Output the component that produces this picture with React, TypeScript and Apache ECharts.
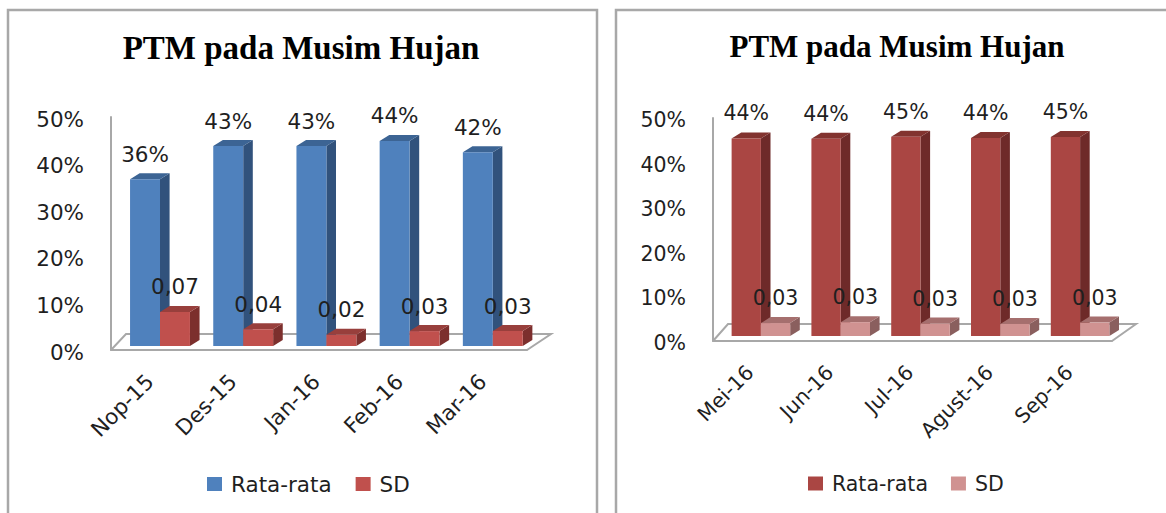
import React, { useEffect, useRef } from "react";
import * as echarts from "echarts";

const titleText = "PTM pada Musim Hujan";
const seriesNames = ["Rata-rata", "SD"];

const categoriesA = ["Nop-15", "Des-15", "Jan-16", "Feb-16", "Mar-16"];
const meanA = [0.358, 0.429, 0.429, 0.44, 0.416];
const sdA = [0.073, 0.036, 0.024, 0.032, 0.032];

const categoriesB = ["Mei-16", "Jun-16", "Jul-16", "Agust-16", "Sep-16"];
const meanB = [0.443, 0.442, 0.447, 0.444, 0.446];
const sdB = [0.029, 0.031, 0.028, 0.027, 0.03];

const FONT = '"DejaVu Sans", sans-serif';
const INK = "#1f1f1f";
const EDGE = "#a8a8a8";

const panelA = {
  categories: categoriesA, mean: meanA, sd: sdA,
  width: 600,
  border: { x: 8, y: 10, width: 589, height: 540 },
  grid: { left: 111, top: 117, width: 416, height: 233 },
  shift: [7.4, -4], barFrac: 0.36, floorBack: [24, -16],
  titleCenter: 296, titleSize: 33, fontSize: 21.5, catMargin: 25,
  legendLeft: 207, legendGap: 24,
  colors: [
    { front: "#4f81bd", side: "#31527c", top: "#3c6494" },
    { front: "#c0504d", side: "#7c2f2d", top: "#983f3c" },
  ],
};
const panelB = {
  categories: categoriesB, mean: meanB, sd: sdB,
  width: 566,
  border: { x: 16, y: 10, width: 600, height: 540 },
  grid: { left: 113, top: 118, width: 399, height: 223 },
  shift: [8, -5], barFrac: 0.367, floorBack: [24, -17],
  titleCenter: 292, titleSize: 31, fontSize: 20.5, catMargin: 25,
  legendLeft: 208, legendGap: 23,
  colors: [
    { front: "#aa4643", side: "#6e2a29", top: "#82332f" },
    { front: "#d09291", side: "#8a5f5e", top: "#a56f6e" },
  ],
};

const DEPTH = [9.6, -6];

function barSeries(panel: any, which: number) {
  const values = which === 0 ? panel.mean : panel.sd;
  const c = panel.colors[which];
  return {
    type: "custom",
    name: seriesNames[which],
    coordinateSystem: "cartesian2d",
    itemStyle: { color: c.front },
    z: 3 + which,
    clip: false,
    data: values.map((v: number, i: number) => [i, v]),
    encode: { x: 0, y: 1 },
    renderItem: (_p: any, api: any) => {
      const idx = api.value(0);
      const val = api.value(1);
      const w = api.size([1, 0])[0] * panel.barFrac;
      const top = api.coord([idx, val]);
      const base = api.coord([idx, 0]);
      const x0 = top[0] + panel.shift[0] - (which === 0 ? w : 0);
      const x1 = x0 + w;
      const y0 = top[1] + panel.shift[1];
      const y1 = base[1] + panel.shift[1];
      const [dx, dy] = DEPTH;
      const label = which === 0 ? `${Math.round(val * 100)}%` : val.toFixed(2).replace(".", ",");
      return {
        type: "group",
        children: [
          { type: "polygon", shape: { points: [[x1, y0], [x1 + dx, y0 + dy], [x1 + dx, y1 + dy], [x1, y1]] }, style: { fill: c.side } },
          { type: "polygon", shape: { points: [[x0, y0], [x0 + dx, y0 + dy], [x1 + dx, y0 + dy], [x1, y0]] }, style: { fill: c.top } },
          { type: "rect", shape: { x: x0, y: y0, width: w, height: y1 - y0 }, style: { fill: c.front } },
          {
            type: "text", z2: 10,
            style: { text: label, x: (x0 + x1) / 2, y: y0 - 25, align: "center", verticalAlign: "middle", fill: INK, font: `${panel.fontSize}px ${FONT}` },
          },
        ],
      };
    },
  };
}

function floorSeries(panel: any) {
  return {
    type: "custom",
    name: "floor",
    coordinateSystem: "cartesian2d",
    z: 1,
    silent: true,
    clip: false,
    data: [[0, 0]],
    encode: { x: 0, y: 1 },
    renderItem: (p: any, api: any) => {
      const y = api.coord([0, 0])[1];
      const x0 = p.coordSys.x;
      const x1 = x0 + p.coordSys.width;
      const [bx, by] = panel.floorBack;
      return {
        type: "polyline",
        shape: { points: [[x0, y], [x0 + 15, y + by], [x1 + bx, y + by], [x1, y]] },
        style: { fill: "none", stroke: EDGE, lineWidth: 2 },
      };
    },
  };
}

function buildOption(panel: any) {
  return {
    animation: false,
    backgroundColor: "#ffffff",
    title: {
      text: titleText,
      left: panel.titleCenter,
      top: 26,
      textAlign: "center",
      textStyle: { fontFamily: '"Liberation Serif", serif', fontWeight: "bold", fontSize: panel.titleSize, color: "#000000" },
    },
    grid: { ...panel.grid },
    xAxis: {
      type: "category",
      data: panel.categories,
      axisLine: { show: true, lineStyle: { color: EDGE, width: 2 } },
      axisTick: { show: false },
      axisLabel: {
        rotate: 45, margin: panel.catMargin, fontFamily: FONT, fontSize: panel.fontSize, color: INK, interval: 0,
        padding: [0, 4, 0, 0],
      },
    },
    yAxis: {
      type: "value",
      min: 0,
      max: 0.5,
      interval: 0.1,
      splitLine: { show: false },
      axisTick: { show: false },
      axisLine: { show: true, lineStyle: { color: EDGE, width: 2 } },
      axisLabel: {
        margin: 27, fontFamily: FONT, fontSize: panel.fontSize, color: INK,
        verticalAlign: "top",
        lineHeight: 4,
        showMinLabel: true,
        showMaxLabel: true,
        formatter: (v: number) => `${Math.round(v * 100)}%`,
      },
    },
    legend: {
      left: panel.legendLeft,
      top: 473,
      padding: 0,
      icon: "rect",
      itemWidth: 15,
      itemHeight: 14,
      itemGap: panel.legendGap,
      data: seriesNames,
      selectedMode: false,
      textStyle: { fontFamily: FONT, fontSize: panel.fontSize, color: INK, padding: [0, 0, 0, 4] },
    },
    graphic: [
      {
        type: "rect", silent: true, z: -1,
        shape: { ...panel.border },
        style: { fill: "none", stroke: EDGE, lineWidth: 2.5 },
      },
    ],
    series: [floorSeries(panel), barSeries(panel, 0), barSeries(panel, 1)],
  };
}

function Panel({ panel, left }: { panel: any; left: number }) {
  const ref = useRef<HTMLDivElement>(null);
  useEffect(() => {
    const chart = echarts.init(ref.current!, undefined, { renderer: "svg" });
    chart.setOption(buildOption(panel));
    return () => chart.dispose();
  }, [panel]);
  return <div ref={ref} style={{ position: "absolute", left, top: 0, width: panel.width, height: 513 }} />;
}

export default function App() {
  return (
    <div style={{ position: "fixed", left: 0, top: 0, width: 1166, height: 513, overflow: "hidden", background: "#fff" }}>
      <Panel panel={panelA} left={0} />
      <Panel panel={panelB} left={600} />
    </div>
  );
}
